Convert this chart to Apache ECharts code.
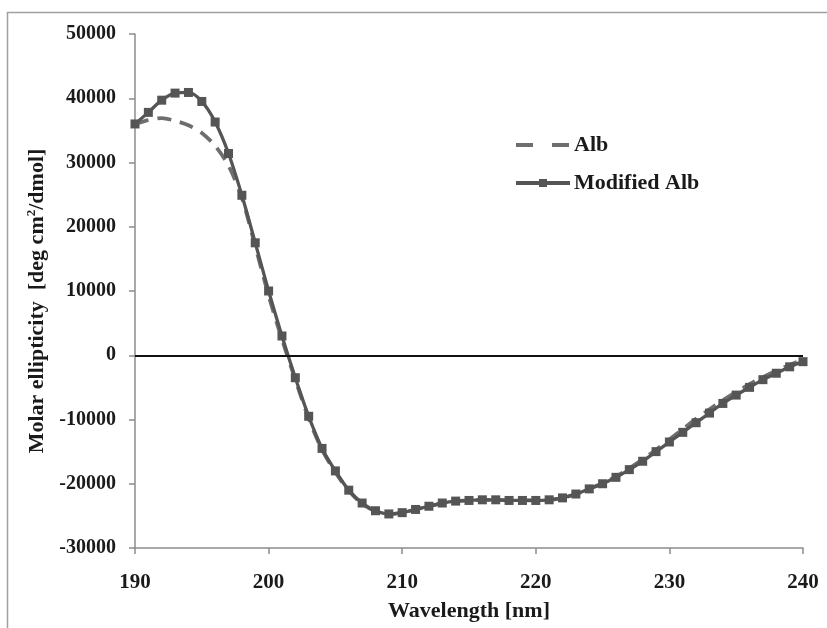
<!DOCTYPE html>
<html>
<head>
<meta charset="utf-8">
<script src="https://cdn.jsdelivr.net/npm/echarts@6/dist/echarts.min.js"></script>
<style>
  html, body { margin: 0; padding: 0; background: #fff; }
  #chart { width: 827px; height: 628px; }
</style>
</head>
<body>
<div id="chart"></div>
<script>
// Wavelength (nm), one reading per nanometre
const wavelengths = [
  190,191,192,193,194,195,196,197,198,199,
  200,201,202,203,204,205,206,207,208,209,
  210,211,212,213,214,215,216,217,218,219,
  220,221,222,223,224,225,226,227,228,229,
  230,231,232,233,234,235,236,237,238,239,240
];

// Molar ellipticity [deg cm2/dmol] of native albumin
const albValues = [
  36000, 36600, 36900, 36500, 35800, 34600, 32600, 29500, 24500, 17000,
  9300, 2500, -3800, -9800, -14700, -18200, -21100, -23100, -24300, -24700,
  -24500, -24000, -23500, -23000, -22700, -22600, -22500, -22500, -22600, -22600,
  -22600, -22500, -22200, -21600, -20800, -19900, -18900, -17600, -16200, -14700,
  -13100, -11500, -9900, -8400, -7000, -5700, -4500, -3400, -2400, -1500, -700
];

// Molar ellipticity [deg cm2/dmol] of modified albumin
const modifiedValues = [
  36000, 37800, 39700, 40800, 40900, 39500, 36300, 31400, 24900, 17500,
  10000, 3000, -3500, -9500, -14500, -18000, -21000, -23000, -24200, -24700,
  -24500, -24000, -23500, -23000, -22700, -22600, -22500, -22500, -22600, -22600,
  -22600, -22500, -22200, -21600, -20800, -20000, -19000, -17800, -16500, -15000,
  -13500, -12000, -10500, -9000, -7500, -6200, -5000, -3800, -2800, -1800, -1000
];

const seriesNames = ['Alb', 'Modified Alb'];

const pairs = (vals) => wavelengths.map((w, i) => [w, vals[i]]);

const serif = '"Liberation Serif", "DejaVu Serif", serif';
const axisGray = '#8c8c8c';
const textColor = '#1a1a1a';

const chart = echarts.init(document.getElementById('chart'));
chart.setOption({
  animation: false,
  backgroundColor: '#ffffff',
  graphic: [{
    type: 'rect',
    shape: { x: 7.5, y: 12.5, width: 840, height: 640 },
    style: { fill: 'none', stroke: '#a0a0a0', lineWidth: 1.5 },
    z: -1
  }],
  grid: { left: 135, right: 24, top: 34, bottom: 80 },
  legend: {
    orient: 'vertical',
    left: 509,
    top: 129,
    itemGap: 16,
    itemWidth: 54,
    itemHeight: 10,
    data: [
      { name: seriesNames[0], itemStyle: { opacity: 0 }, lineStyle: { type: [17, 19], width: 4 } },
      { name: seriesNames[1], lineStyle: { width: 4 } }
    ],
    textStyle: { fontFamily: serif, fontWeight: 'bold', fontSize: 22, color: textColor, padding: [0, 0, 0, -1] }
  },
  xAxis: {
    type: 'value',
    min: 190, max: 240, interval: 10,
    name: 'Wavelength [nm]',
    nameLocation: 'middle',
    nameGap: 52,
    nameTextStyle: { fontFamily: serif, fontWeight: 'bold', fontSize: 22, color: textColor },
    axisLine: { onZero: false, lineStyle: { color: axisGray, width: 1.5 } },
    axisTick: { show: true, length: 6, lineStyle: { color: axisGray, width: 1.5 } },
    axisLabel: { margin: 24, fontFamily: serif, fontWeight: 'bold', fontSize: 21, color: textColor },
    splitLine: { show: false }
  },
  yAxis: {
    type: 'value',
    min: -30000, max: 50000, interval: 10000,
    name: 'Molar ellipticity  [deg cm{sup|2}/dmol]',
    nameLocation: 'middle',
    nameGap: 86,
    nameTextStyle: {
      fontFamily: serif, fontWeight: 'bold', fontSize: 22, color: textColor,
      padding: [0, 20, 0, 0],
      rich: {
        sup: { fontFamily: serif, fontWeight: 'bold', fontSize: 13, color: textColor, padding: [0, 0, 11, 0] }
      }
    },
    axisLine: { show: true, lineStyle: { color: axisGray, width: 1.5 } },
    axisTick: { show: true, inside: false, length: 6, lineStyle: { color: axisGray, width: 1.5 } },
    axisLabel: {
      margin: 19, fontFamily: serif, fontWeight: 'bold', fontSize: 20, color: textColor,
      formatter: (v) => String(v)
    },
    splitLine: { show: false }
  },
  series: [
    {
      name: seriesNames[0],
      type: 'line',
      data: pairs(albValues),
      smooth: 0.3,
      symbol: 'none',
      itemStyle: { color: '#6e6e6e' },
      lineStyle: { color: '#6e6e6e', width: 3.8, type: [14, 9] },
      markLine: {
        silent: true,
        symbol: 'none',
        label: { show: false },
        lineStyle: { color: '#111111', width: 2, type: 'solid' },
        data: [{ yAxis: 0 }]
      },
      z: 2
    },
    {
      name: seriesNames[1],
      type: 'line',
      data: pairs(modifiedValues),
      smooth: 0.3,
      symbol: 'rect',
      symbolSize: 9,
      itemStyle: { color: '#555555' },
      lineStyle: { color: '#555555', width: 3.3 },
      z: 3
    }
  ]
});
</script>
</body>
</html>
